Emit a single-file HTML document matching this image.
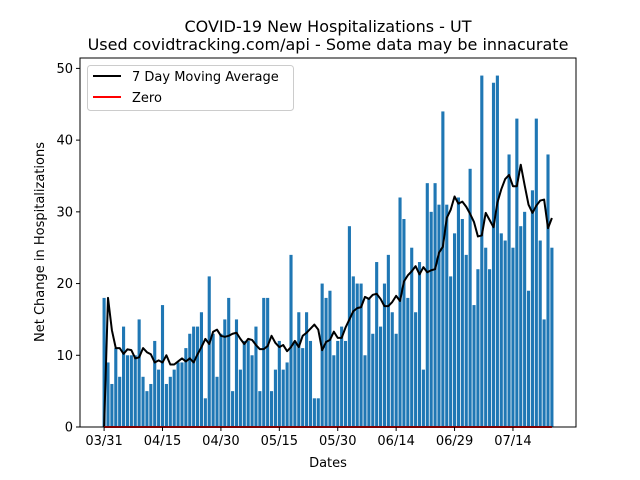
<!DOCTYPE html>
<html><head><meta charset="utf-8"><style>
body{margin:0;background:#fff;}
svg{display:block;font-family:"DejaVu Sans","Liberation Sans",sans-serif;}
</style></head><body>
<svg id="chart" width="640" height="480" viewBox="0 0 640 480">
<rect width="640" height="480" fill="#fff"/>
<text x="328" y="32" font-size="16" text-anchor="middle">COVID-19 New Hospitalizations - UT</text>
<text x="328" y="50" font-size="16" text-anchor="middle">Used covidtracking.com/api - Some data may be innacurate</text>
<g id="bars"></g>
<g id="lines"></g>
<g id="axes"></g>
<text x="328" y="467" font-size="13" text-anchor="middle">Dates</text>
<text transform="translate(44,242) rotate(-90)" font-size="13" text-anchor="middle">Net Change in Hospitalizations</text>
<g>
<rect x="87.5" y="65.5" width="206" height="45" rx="3" fill="#fff" fill-opacity="0.8" stroke="#ccc"/>
<line x1="93" y1="76" x2="121" y2="76" stroke="#000" stroke-width="2"/>
<text x="132" y="81" font-size="13">7 Day Moving Average</text>
<line x1="93" y1="97" x2="121" y2="97" stroke="#f00" stroke-width="2"/>
<text x="132" y="102" font-size="13">Zero</text>
</g>
</svg>
<script>
const values = [18,9,6,11,7,14,10,10,10,15,7,5,6,12,8,17,6,7,8,9,9,11,13,14,14,16,4,21,13,
7,13,15,18,5,15,8,12,12,10,14,5,18,18,5,8,12,8,9,24,12,16,11,16,12,4,4,20,
18,19,10,12,14,12,28,21,20,20,10,18,13,23,14,20,24,16,13,32,29,18,25,16,23,8,34,30,34,
31,44,31,21,27,32,29,24,36,17,22,49,25,22,48,49,27,26,38,25,43,28,30,19,33,43,26,15,38,25];
const xTickLabels = ["03/31","04/15","04/30","05/15","05/30","06/14","06/29","07/14"];
const xTickIndex = [0,15,30,45,60,75,90,105];
const yTicks = [0,10,20,30,40,50];

const NS="http://www.w3.org/2000/svg";
const L=80,R=576,T=58,B=427;
const n=values.length;
const maxV=Math.max(...values);
const yMax=maxV*1.05;
const span=(n-1)+0.8, x0=-0.4-span*0.05, x1=(n-1)+0.4+span*0.05;
const X=i=>L+(i-x0)/(x1-x0)*(R-L);
const Y=v=>B-v/yMax*(B-T);
function mk(tag,attrs,parent){const e=document.createElementNS(NS,tag);for(const k in attrs)e.setAttribute(k,attrs[k]);parent.appendChild(e);return e;}
const bars=document.getElementById('bars');
const w=(X(1)-X(0))*0.8;
values.forEach((v,i)=>{
 const r=mk('rect',{x:X(i)-w/2,y:Y(v),width:w,height:B-Y(v),fill:'#1f77b4'},bars);
 
 
});
const lines=document.getElementById('lines');
const ma=[0];
for(let i=1;i<n;i++){const s=values.slice(Math.max(0,i-7),i);ma.push(s.reduce((a,b)=>a+b,0)/s.length);}
const mp=mk('polyline',{points:ma.map((v,i)=>X(i)+','+Y(v)).join(' '),fill:'none',stroke:'#000','stroke-width':2,'stroke-linejoin':'round'},lines);


const zl=mk('line',{x1:X(0),x2:X(n-1),y1:Y(0),y2:Y(0),stroke:'#f00','stroke-width':2},lines);


const axes=document.getElementById('axes');
const fr=mk('rect',{x:L,y:T,width:R-L,height:B-T,fill:'none',stroke:'#000','stroke-width':1},axes);


yTicks.forEach(t=>{
 mk('line',{x1:L-4,x2:L,y1:Y(t),y2:Y(t),stroke:'#000'},axes);
 const tx=mk('text',{x:L-7,y:Y(t)+4.5,'font-size':13,'text-anchor':'end'},axes);
 tx.textContent=t;
 
 
});
xTickIndex.forEach((d,k)=>{
 mk('line',{x1:X(d),x2:X(d),y1:B,y2:B+4,stroke:'#000'},axes);
 const tx=mk('text',{x:X(d),y:B+18,'font-size':13,'text-anchor':'middle'},axes);
 tx.textContent=xTickLabels[k];
 
 
});
</script>
</body></html>
